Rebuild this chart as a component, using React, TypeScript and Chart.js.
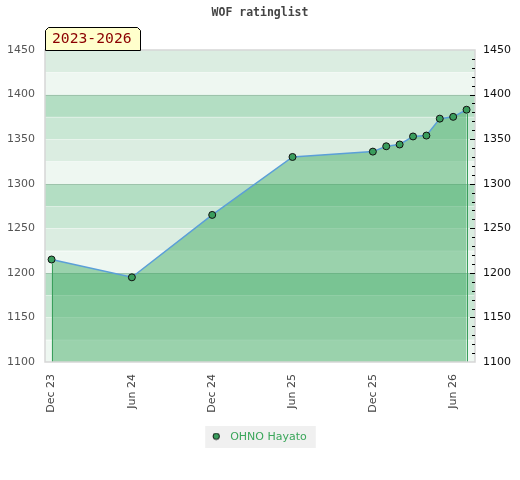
import React, { useEffect, useRef } from 'react';
import { Chart, registerables } from 'chart.js';

Chart.register(...registerables);

// ---- data ----
const titleText = 'WOF ratinglist';
const periodLabel = '2023-2026';
const seriesName = 'OHNO Hayato';
const dates = ['2023-12', '2024-06', '2024-12', '2025-06', '2025-12', '2026-01', '2026-02', '2026-03', '2026-04', '2026-05', '2026-06', '2026-07'];
const ratings = [1215, 1195, 1265, 1330, 1336, 1342, 1344, 1353, 1354, 1373, 1375, 1383];
const tickDates = ['2023-12', '2024-06', '2024-12', '2025-06', '2025-12', '2026-06'];
const tickLabels = ['Dec 23', 'Jun 24', 'Dec 24', 'Jun 25', 'Dec 25', 'Jun 26'];
const yTicks = [1100, 1150, 1200, 1250, 1300, 1350, 1400, 1450];
const bandColors = ['#b3dec3', '#c9e7d4', '#dbede1', '#eef7f1'];

const monthIndex = (s: string) => {
  const [y, m] = s.split('-').map(Number);
  return (y - 2023) * 12 + (m - 12);
};
const xVals = dates.map(monthIndex);
const tickMonths = tickDates.map(monthIndex);
const points = xVals.map((x, i) => ({ x, y: ratings[i] }));

const makeLegendDot = () => {
  const c = document.createElement('canvas');
  c.width = 14;
  c.height = 10;
  const g = c.getContext('2d');
  if (g) {
    g.beginPath();
    g.arc(4.25, 3.8, 3.2, 0, Math.PI * 2);
    g.fillStyle = '#3a9d5d';
    g.fill();
    g.lineWidth = 1;
    g.strokeStyle = '#111';
    g.stroke();
  }
  return c;
};

const decorPlugin = {
  id: 'decor',
  beforeDraw(chart: any) {
    const ctx = chart.ctx;
    const lg = chart.legend;
    if (lg && lg.legendHitBoxes && lg.legendHitBoxes[0]) {
      const hb = lg.legendHitBoxes[0];
      ctx.save();
      ctx.fillStyle = '#f0f0f0';
      ctx.fillRect(hb.left - 8, hb.top - 6, hb.width + 17, hb.height + 11);
      ctx.restore();
    }
  },
  beforeDatasetsDraw(chart: any) {
    const ctx = chart.ctx;
    const { left, right } = chart.chartArea;
    const ys = chart.scales.y;
    ctx.save();
    for (let v = ys.min; v < ys.max; v += 25) {
      const top = ys.getPixelForValue(v + 25);
      const bot = ys.getPixelForValue(v);
      const q = ((1500 - (v + 25)) % 100) / 25;
      ctx.fillStyle = bandColors[q];
      ctx.fillRect(left, top, right - left, bot - top);
    }
    for (let v = ys.min + 25; v < ys.max; v += 25) {
      const y = Math.round(ys.getPixelForValue(v)) + 0.5;
      ctx.strokeStyle = v % 100 === 0 ? 'rgba(0,0,0,0.12)' : 'rgba(255,255,255,0.35)';
      ctx.lineWidth = 1;
      ctx.beginPath();
      ctx.moveTo(left, y);
      ctx.lineTo(right, y);
      ctx.stroke();
    }
    ctx.restore();
  },
  afterDatasetsDraw(chart: any) {
    const ctx = chart.ctx;
    const meta = chart.getDatasetMeta(0);
    const bottom = chart.chartArea.bottom;
    const els = meta.data;
    ctx.save();
    ctx.strokeStyle = '#3a9f5c';
    ctx.lineWidth = 1;
    [els[0], els[els.length - 1]].forEach((p: any) => {
      const x = Math.round(p.x) + 0.5;
      ctx.beginPath();
      ctx.moveTo(x, p.y + 4);
      ctx.lineTo(x, bottom);
      ctx.stroke();
    });
    ctx.restore();
  },
  afterDraw(chart: any) {
    const ctx = chart.ctx;
    const { left, right, top, bottom } = chart.chartArea;
    const ys = chart.scales.y;
    ctx.save();
    // border
    ctx.strokeStyle = '#d6d6d6';
    ctx.lineWidth = 1.5;
    ctx.strokeRect(left, top, right - left, bottom - top);
    // right minor ticks
    ctx.strokeStyle = '#000';
    ctx.lineWidth = 1;
    for (let v = ys.min + 10; v < ys.max; v += 10) {
      const y = Math.round(ys.getPixelForValue(v)) + 0.5;
      const len = v % 50 === 0 ? 5 : 3;
      ctx.beginPath();
      ctx.moveTo(right - len, y);
      ctx.lineTo(right, y);
      ctx.stroke();
    }
    // period label box
    const l = left + 0.5, r = left + 95.5, t = top - 22.5, b = top + 0.5, c = 3;
    ctx.beginPath();
    ctx.moveTo(l, b);
    ctx.lineTo(l, t + c);
    ctx.lineTo(l + c, t);
    ctx.lineTo(r - c, t);
    ctx.lineTo(r, t + c);
    ctx.lineTo(r, b);
    ctx.closePath();
    ctx.fillStyle = '#ffffcc';
    ctx.fill();
    ctx.strokeStyle = '#000';
    ctx.lineWidth = 1;
    ctx.stroke();
    ctx.fillStyle = '#8b0000';
    ctx.font = '14.7px "DejaVu Sans Mono"';
    ctx.textBaseline = 'middle';
    ctx.textAlign = 'left';
    ctx.fillText(periodLabel, left + 7, top - 10.5);
    ctx.restore();
  },
};

export default function App() {
  const ref = useRef<HTMLCanvasElement | null>(null);
  useEffect(() => {
    document.body.style.margin = '0';
    const canvas = ref.current;
    if (!canvas) return;
    Chart.defaults.font.family = 'DejaVu Sans';
    const legendDot = makeLegendDot();
    const chart = new Chart(canvas, {
      type: 'line',
      data: {
        datasets: [
          {
            label: seriesName,
            data: points,
            borderColor: '#5b9fd8',
            borderWidth: 1.5,
            backgroundColor: 'rgba(50,164,89,0.45)',
            fill: 'start',
            tension: 0,
            pointRadius: 3.5,
            pointBackgroundColor: '#3a9d5d',
            pointBorderColor: '#111',
            pointBorderWidth: 1,
          },
        ],
      },
      options: {
        animation: false,
        responsive: false,
        devicePixelRatio: 1,
        layout: { padding: { top: 0, bottom: 27, left: 0, right: 0 } },
        plugins: {
          title: {
            display: true,
            text: titleText,
            color: '#444',
            font: { family: 'DejaVu Sans Mono', weight: 'bold', size: 11.5, lineHeight: 1.2 },
            padding: { top: 6, bottom: 30.2 },
          },
          legend: {
            position: 'bottom',
            labels: {
              color: '#3aa65a',
              font: { size: 11 },
              usePointStyle: true,
              pointStyleWidth: 11.5,
              boxWidth: 11.5,
              boxHeight: 5,
              padding: 10,
              generateLabels: () => [
                {
                  text: seriesName,
                  fillStyle: '#3a9d5d',
                  strokeStyle: '#111',
                  lineWidth: 1,
                  pointStyle: legendDot,
                  fontColor: '#3aa65a',
                  datasetIndex: 0,
                  hidden: false,
                },
              ],
            },
          },
          tooltip: { enabled: false },
        },
        scales: {
          x: {
            type: 'linear',
            min: -0.49,
            max: 31.63,
            afterBuildTicks: (scale: any) => {
              scale.ticks = tickMonths.map((v) => ({ value: v }));
            },
            afterFit: (scale: any) => {
              scale.height = 60;
            },
            grid: { display: false, drawTicks: false },
            border: { display: false },
            ticks: {
              autoSkip: false,
              maxRotation: 90,
              minRotation: 90,
              padding: 12,
              color: '#444',
              font: { size: 11 },
              callback: (value: any) => {
                const i = tickMonths.indexOf(Number(value));
                return i >= 0 ? tickLabels[i] : '';
              },
            },
          },
          y: {
            type: 'linear',
            position: 'left',
            min: 1100,
            max: 1450,
            afterBuildTicks: (scale: any) => {
              scale.ticks = yTicks.map((v) => ({ value: v }));
            },
            afterFit: (scale: any) => {
              scale.width = 45;
            },
            grid: { display: false, drawTicks: false },
            border: { display: false },
            ticks: { padding: 10, color: '#555', font: { size: 11 }, callback: (v: any) => String(v) },
          },
          y2: {
            type: 'linear',
            position: 'right',
            display: true,
            min: 1100,
            max: 1450,
            afterBuildTicks: (scale: any) => {
              scale.ticks = yTicks.map((v) => ({ value: v }));
            },
            afterFit: (scale: any) => {
              scale.width = 45;
            },
            grid: { display: false, drawTicks: false },
            border: { display: false },
            ticks: { padding: 8, color: '#111', font: { size: 11 }, callback: (v: any) => String(v) },
          },
        },
      } as any,
      plugins: [decorPlugin],
    });
    return () => chart.destroy();
  }, []);
  return (
    <div style={{ width: 520, height: 480 }}>
      <canvas ref={ref} width={520} height={480} style={{ display: 'block', width: 520, height: 480 }} />
    </div>
  );
}
